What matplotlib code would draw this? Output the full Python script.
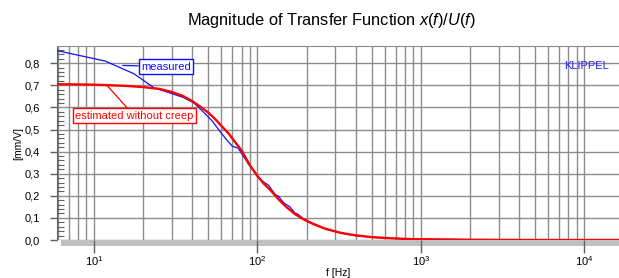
import math
import matplotlib
matplotlib.use("Agg")
import matplotlib.pyplot as plt
from matplotlib.patches import Rectangle
from matplotlib.ticker import FixedLocator, FuncFormatter, NullFormatter

plt.rcParams['font.family'] = ['Liberation Sans', 'DejaVu Sans']
plt.rcParams['mathtext.fontset'] = 'custom'
plt.rcParams['mathtext.rm'] = 'Liberation Sans'
plt.rcParams['mathtext.it'] = 'Liberation Sans:italic'

# ---- data ----
est_freq = [5.8, 8, 10, 13, 16, 20, 25, 30, 35, 40, 45, 50, 55, 60, 67, 75, 80, 90,
            100, 110, 120, 135, 150, 170, 190, 220, 260, 320, 400, 500, 650, 800,
            1000, 1400, 2000, 5000, 16400]
est_mag = [0.705, 0.704, 0.703, 0.700, 0.697, 0.692, 0.684, 0.670, 0.652, 0.628,
           0.602, 0.577, 0.548, 0.518, 0.480, 0.432, 0.405, 0.338, 0.290, 0.253,
           0.226, 0.183, 0.150, 0.117, 0.095, 0.072, 0.051, 0.033, 0.021, 0.013,
           0.008, 0.005, 0.003, 0.002, 0.001, 0.0, 0.0]

meas_freq = [5.86, 11.7, 17.6, 23.4, 29.3, 35.2, 41.0, 46.9, 52.7, 58.6, 64.5, 70.3,
             76.2, 82.0, 87.9, 93.8, 99.6, 105.5, 111.3, 117.2, 123.0, 128.9, 134.8,
             140.6, 146.5, 152.3, 158.2, 164.1, 169.9, 175.8, 181.6, 187.5, 193.4,
             205, 220, 240, 260, 290, 320, 350, 400, 450, 500, 600, 700, 800, 1000,
             1500, 2000]
meas_mag = [0.858, 0.810, 0.752, 0.688, 0.665, 0.645, 0.620, 0.578, 0.540, 0.495,
            0.455, 0.424, 0.416, 0.380, 0.345, 0.318, 0.290, 0.272, 0.258, 0.248,
            0.225, 0.205, 0.198, 0.180, 0.165, 0.158, 0.150, 0.135, 0.122, 0.118,
            0.110, 0.101, 0.094, 0.085, 0.074, 0.063, 0.050, 0.041, 0.034, 0.026,
            0.020, 0.016, 0.013, 0.009, 0.007, 0.006, 0.004, 0.003, 0.002]

y_ticks = [0.0, 0.1, 0.2, 0.3, 0.4, 0.5, 0.6, 0.7, 0.8]
x_decades = [10, 100, 1000, 10000]

# ---- figure ----
fig = plt.figure(figsize=(6.19, 2.78), dpi=100)
ax = fig.add_axes([57/619, 1-240/278, 1-57/619, (240-46)/278])
ax.set_xscale('log')
ax.set_xlim(5.94, 16310)
ax.set_ylim(0, 0.878)

grid_col = '#8c8c8c'
minor_x = [m * 10**e for e in range(0, 5) for m in range(2, 10)]
ax.xaxis.set_major_locator(FixedLocator(x_decades))
ax.xaxis.set_minor_locator(FixedLocator(minor_x))
ax.grid(True, which='major', axis='x', color=grid_col, lw=1.0)
ax.grid(True, which='minor', axis='x', color=grid_col, lw=1.0)
ax.yaxis.set_major_locator(FixedLocator(y_ticks))
ax.yaxis.set_minor_locator(FixedLocator([i * 0.02 for i in range(0, 44)]))
ax.grid(True, which='major', axis='y', color=grid_col, lw=1.0)
ax.yaxis.set_minor_formatter(NullFormatter())
ax.xaxis.set_minor_formatter(NullFormatter())

ax.yaxis.set_major_formatter(FuncFormatter(lambda v, p: f"{v:.1f}".replace('.', ',')))
ax.xaxis.set_major_formatter(FuncFormatter(
    lambda v, p: r"$\mathregular{10^{%d}}$" % round(math.log10(v))))

ax.tick_params(axis='y', which='major', direction='out', length=5, width=1,
               color='#606060', labelsize=8, pad=7)
ax.tick_params(axis='y', which='minor', direction='in', length=5, width=0.8,
               color='#606060')
ax.tick_params(axis='x', which='major', direction='out', length=9, width=1,
               color='#606060', labelsize=8, pad=1)
ax.tick_params(axis='x', which='minor', length=0)

for s in ['right', 'bottom']:
    ax.spines[s].set_visible(False)
ax.spines['left'].set_color('#606060')
ax.spines['top'].set_color(grid_col)

# gray band below zero
ax.add_patch(Rectangle((4/562, -6/194), 1.0, 6/194, transform=ax.transAxes,
                       facecolor='#c0c0c0', edgecolor='none', clip_on=False, zorder=1))

ax.plot(meas_freq, meas_mag, color='#1010ff', lw=0.9, zorder=3)
ax.plot(est_freq, est_mag, color='#ff0000', lw=1.7, zorder=4)

# annotations
ax.annotate('measured', xy=(15.0, 0.790), xytext=(19.4, 0.785),
            textcoords='data', color='#1010ff', fontsize=8, ha='left', va='center',
            bbox=dict(boxstyle='square,pad=0.2', fc='white', ec='#1010ff', lw=1),
            arrowprops=dict(arrowstyle='-', color='#1010ff', lw=0.9, shrinkA=0, shrinkB=0),
            zorder=6)
ax.annotate('estimated without creep', xy=(12.0, 0.700), xytext=(7.65, 0.563),
            textcoords='data', color='#ff0000', fontsize=8, ha='left', va='center',
            bbox=dict(boxstyle='square,pad=0.2', fc='white', ec='#ff0000', lw=1),
            arrowprops=dict(arrowstyle='-', color='#ff0000', lw=0.9, shrinkA=0, shrinkB=0),
            zorder=6)

ax.text(0.982, 0.898, 'KLIPPEL', transform=ax.transAxes, color='#2020ff',
        fontsize=8, ha='right', va='center')

ax.set_xlabel('f [Hz]', fontsize=7.5, labelpad=0)
ax.set_ylabel('[mm/V]', fontsize=7.5)
ax.yaxis.set_label_coords(-0.060, 0.5)

fig.text(331/619, 1-20/278, r'Magnitude of Transfer Function $\mathit{x(f)/U(f)}$',
         ha='center', va='center', fontsize=11.8)

fig.savefig('out.png', dpi=100)
